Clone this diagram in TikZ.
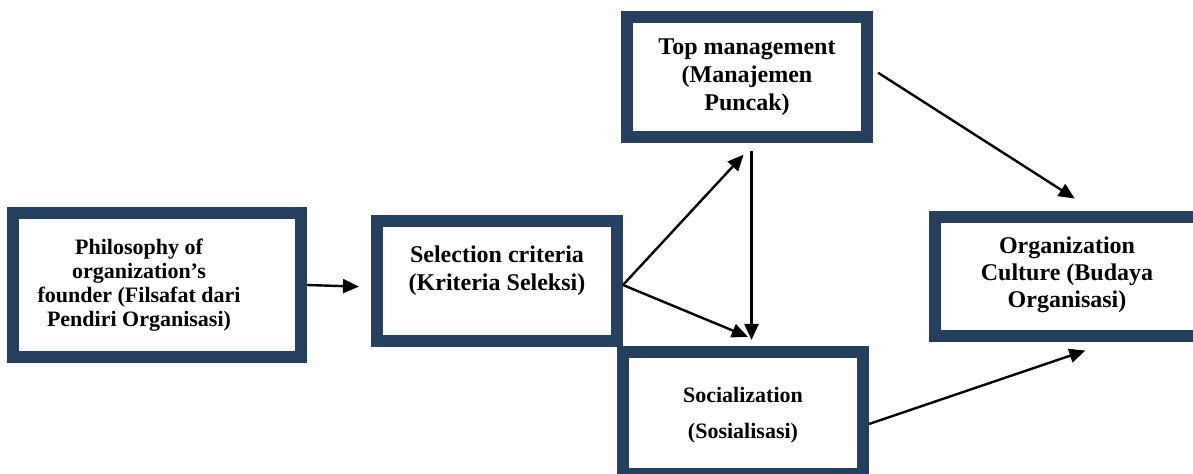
\documentclass[tikz,border=0pt]{standalone}
\usepackage{fontspec}
\setmainfont{Liberation Serif}
\usetikzlibrary{arrows.meta, positioning}
\definecolor{boxblue}{RGB}{36,63,96}

\begin{document}
\begin{tikzpicture}[on grid, >={Triangle[length=8pt,width=7pt]},
      box/.style={draw=boxblue, line width=6pt, fill=white, minimum width=120pt, minimum height=60pt},
      boxtext/.style={align=center, inner sep=0pt, font=\bfseries\fontsize{12}{14}\selectfont},
      smalltext/.style={boxtext, font=\bfseries\fontsize{11}{12}\selectfont},
      link/.style={->, line width=1.2pt}]
      \useasboundingbox (0,0) rectangle (596.5pt,-237pt);
      \node[box] (sel) at (248.5pt,-140.5pt) {};
      \node[box, minimum width=144pt, minimum height=72pt] (phil) [below left=2pt and 170pt of sel] {};
      \node[box] (top) [above right=102pt and 125pt of sel] {};
      \node[box, minimum height=61pt] (soc) [below right=66pt and 123pt of sel] {};
      \node[box, minimum width=132.5pt, minimum height=59.5pt] (org) [above right=2pt and 285pt of sel] {};
      \node[smalltext] (phil-text) at ([xshift=-9pt]phil.center) {Philosophy of\\organization’s\\founder (Filsafat dari\\Pendiri Organisasi)};
      \node[boxtext] (sel-text) at ([yshift=5pt]sel.center) {Selection criteria\\(Kriteria Seleksi)};
      \node[boxtext] (top-text) at (top.center) {Top management\\(Manajemen\\Puncak)};
      \node[smalltext] (soc-text) at ([yshift=-1pt]soc.center) {Socialization\\[6pt](Sosialisasi)};
      \node[boxtext, font=\bfseries\fontsize{12}{13.5}\selectfont] (org-text) at ([yshift=1pt]org.center) {Organization\\Culture (Budaya\\Organisasi)};
      \draw[link, shorten >=6pt] (phil.east) -- ([yshift=-3pt]sel.west);
      \draw[link, shorten >=8pt] ([yshift=-2pt]sel.east) -- ([xshift=3.75pt]top.south);
      \draw[link, shorten >=12pt] ([yshift=-2pt]sel.east) -- ([xshift=13.5pt]soc.north);
      \draw[link, shorten <=4pt, shorten >=3pt] ([xshift=2.25pt]top.south) -- ([xshift=2.25pt]top.south |- soc.north);
      \draw[link, shorten <=3pt, shorten >=12pt] ([yshift=3.75pt]top.east) -- ([xshift=14pt]org.north);
      \draw[link, shorten >=12.5pt] ([yshift=-5.5pt]soc.east) -- ([xshift=21pt]org.south);
\end{tikzpicture}
\end{document}
